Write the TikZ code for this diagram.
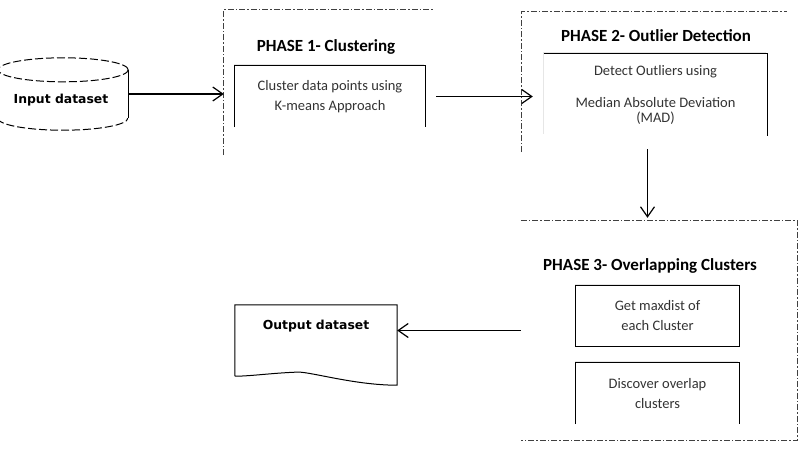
\documentclass[tikz,border=0pt]{standalone}
\usepackage{fontspec}
\setmainfont{Carlito}
\newfontfamily\dvs{DejaVu Sans}
\usetikzlibrary{arrows.meta,positioning,shapes.geometric,shadows}

\begin{document}
\begin{tikzpicture}[x=1pt,y=-1pt,
  phase/.style={inner sep=0pt},
  phaseline/.style={line width=.8pt,black!75,dash pattern=on 6pt off 2pt on 1.5pt off 2pt},
  title/.style={font=\fontsize{17}{19}\selectfont\bfseries},
  stepbox/.style={inner sep=0pt,fill=white,align=center,text=black!80,
    font=\fontsize{14.5}{20}\selectfont,
    drop shadow={shadow xshift=-1pt,shadow yshift=2.5pt,opacity=.2}},
  boxline/.style={line width=1.1pt},
  datalbl/.style={font=\dvs\fontsize{12.4}{14}\selectfont\bfseries},
  flow/.style={-{Straight Barb[length=10pt,width=14pt]},line width=1.2pt}]
\useasboundingbox (0,0) rectangle (803,450);

% input
\node[phase,minimum width=130pt,minimum height=72pt] (in) at (63,94) {};
\draw[line width=1pt] ([yshift=-12pt]in.north west) -- ([yshift=12pt]in.south west)
  ([yshift=-12pt]in.north east) -- ([yshift=12pt]in.south east);
\draw[dash pattern=on 8pt off 3pt,line width=1pt] ([yshift=12pt]in.south west)
  arc[start angle=180,end angle=360,x radius=65pt,y radius=12pt]
  ([yshift=-12pt]in.north east)
  arc[start angle=0,end angle=180,x radius=65pt,y radius=12pt]
  arc[start angle=180,end angle=360,x radius=65pt,y radius=12pt];
\node[datalbl] (inlbl) at (61,100) {Input dataset};

% phase 1
\node[phase,minimum width=210pt,minimum height=145pt] (p1) at (329,82.5) {};
\draw[phaseline] (p1.south west) -- (p1.north west) -- (p1.north east);
\node[title] (t1) at (326,47) {PHASE 1- Clustering};
\node[stepbox,minimum width=190pt,minimum height=61pt] (c1) at (330,96.5)
  {Cluster data points using\\K-means Approach};
\draw[boxline] (c1.south west) -- (c1.north west) -- (c1.north east) -- (c1.south east);

% phase 2
\node[phase,minimum width=265pt,minimum height=140pt] (p2) at (654.5,82) {};
\draw[phaseline] (p2.south west) -- (p2.north west) -- (p2.north east);
\node[title] (t2) at (656,36) {PHASE 2- Outlier Detection};
\node[stepbox,minimum width=223pt,minimum height=82pt] (c2) at (655.5,95)
  {Detect Outliers using\\[12pt]Median Absolute Deviation\\[-5pt](MAD)};
\draw[boxline] (c2.north west) -- (c2.north east) -- (c2.south east);

% phase 3
\node[phase,minimum width=276pt,minimum height=219pt] (p3) at (659,330.5) {};
\draw[phaseline] (p3.north west) -- (p3.north east) -- (p3.south east) -- (p3.south west);
\node[title] (t3) at (650,266) {PHASE 3- Overlapping Clusters};
\node[stepbox,minimum width=163pt,minimum height=60pt] (c3) at (657.5,316)
  {Get maxdist of\\each Cluster};
\draw[boxline] (c3.south west) rectangle (c3.north east);
\node[stepbox,minimum width=163pt,minimum height=61pt] (c4) at (657.5,393.5)
  {Discover overlap\\clusters};
\draw[boxline] (c4.south west) -- (c4.north west) -- (c4.north east) -- (c4.south east);

% output
\node[minimum width=162pt,minimum height=70pt,inner sep=0pt] (out) at (316,340) {};
\draw[line width=1pt] ([yshift=-1pt]out.south west) -- (out.north west) -- (out.north east) -- ([yshift=-10pt]out.south east)
  .. controls ([xshift=-45pt,yshift=-10pt]out.south east) and ([xshift=-10pt,yshift=5pt]out.south) .. ([xshift=-21pt,yshift=3pt]out.south)
  .. controls ([xshift=-45pt,yshift=2pt]out.south) and ([xshift=15pt,yshift=-1pt]out.south west) .. ([yshift=-1pt]out.south west);
\node[datalbl] (outlbl) at (316,326) {Output dataset};

% flow
\draw[flow] (in.east) -- (in.east -| p1.west);
\draw[flow] ([xshift=11pt]c1.east) -- ([xshift=11pt]c1.east -| p2.west);
\draw[flow] ([xshift=-7pt,yshift=3pt]p2.south) -- ([xshift=-7pt,yshift=3pt]p2.south |- p3.north);
\draw[flow] (p3.west) -- (p3.west -| out.east);
\end{tikzpicture}
\end{document}
